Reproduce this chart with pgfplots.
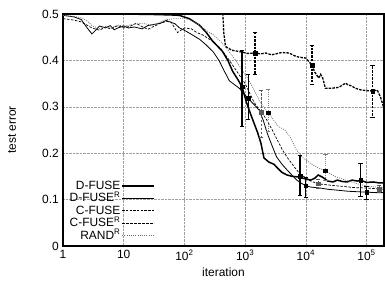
\documentclass[border=0pt]{standalone}
\usepackage{pgfplots}
\pgfplotsset{compat=1.18}
\usepackage{fontspec}
\setmainfont{Liberation Sans}
\pgfplotsset{eb/.style={only marks, forget plot, mark=square*, mark size=1.8bp,
  error bars/y dir=both, error bars/y explicit, error bars/error mark=-,
  error bars/error mark options={rotate=90, mark size=2.2bp, solid, line width=0.6bp},
  error bars/error bar style={#1}}}
\begin{document}
\fontsize{12}{14}\selectfont
\begin{tikzpicture}
\path[use as bounding box] (-63bp,-36bp) rectangle (322bp,246bp);
\begin{axis}[
  at={(0,0)}, anchor=south west,
  scale only axis, width=321bp, height=232bp,
  xmode=log, xmin=1, xmax=1.94e5, ymin=0, ymax=0.5,
  log basis x=10,
  xtick={1,10,100,1000,10000,100000},
  xticklabels={1,10,10\textsuperscript{2},10\textsuperscript{3},10\textsuperscript{4},10\textsuperscript{5}},
  ytick={0,0.1,0.2,0.3,0.4,0.5},
  yticklabels={0,0.1,0.2,0.3,0.4,0.5},
  minor xtick={}, 
  major tick length=0pt,
  axis line style={line width=1.1bp},
  grid=major, major grid style={gray!75, densely dotted, line width=0.5bp},
  xlabel={iteration}, ylabel={test error},
  xlabel style={at={(axis description cs:0.5,-0.112)}, anchor=center},
  ylabel style={at={(axis description cs:-0.159,0.5)}, anchor=center},
  tick label style={font=\fontsize{12}{14}\selectfont},
  label style={font=\fontsize{12}{14}\selectfont},
  legend style={draw=none, fill=none, at={(axis description cs:0.287,0.016)}, anchor=south east,
    font=\fontsize{12}{14}\selectfont, inner sep=0pt, row sep=0pt,
    nodes={inner sep=1bp, text height=8.5bp, text depth=2bp},
    cells={anchor=east}},
  legend plot pos=right,
  legend image code/.code={\draw[#1] (0bp,0bp) -- (32bp,0bp);},
]
% D-FUSE
\addplot[black, line width=1.5bp] coordinates {
(1,0.5)(10,0.5)(30,0.499)(60,0.498)(83,0.497)(120,0.49)(177,0.476)(230,0.46)(290,0.442)(420,0.42)(520,0.4)(620,0.377)(750,0.36)(890,0.343)(1050,0.31)(1250,0.282)(1400,0.265)(1600,0.245)(1820,0.222)(2040,0.19)(2450,0.181)(3000,0.176)(3300,0.17)(4000,0.159)(4900,0.153)(6000,0.15)(7400,0.149)(9600,0.145)(12000,0.142)(14000,0.146)(16000,0.153)(19000,0.148)(23000,0.14)(28000,0.138)(33000,0.142)(40000,0.139)(48000,0.138)(58000,0.142)(70000,0.14)(83000,0.141)(100000,0.137)(130000,0.138)(160000,0.136)(200000,0.136)};
\addlegendentry{D-FUSE}
% D-FUSE^R
\addplot[black, line width=0.8bp] coordinates {
(1,0.497)(1.5,0.494)(2,0.488)(2.5,0.47)(3,0.457)(3.5,0.466)(4,0.474)(5,0.47)(6,0.475)(7,0.466)(8,0.47)(10,0.474)(12,0.47)(15,0.472)(20,0.468)(25,0.475)(30,0.477)(40,0.48)(50,0.486)(60,0.482)(70,0.479)(83,0.47)(100,0.465)(135,0.455)(180,0.445)(230,0.433)(300,0.418)(375,0.399)(450,0.378)(550,0.356)(800,0.34)(1120,0.318)(1400,0.305)(1700,0.293)(2000,0.27)(2300,0.244)(2800,0.215)(3300,0.192)(4000,0.177)(4900,0.164)(6000,0.152)(7100,0.142)(8500,0.135)(10000,0.13)(12000,0.127)(17000,0.125)(24000,0.122)(35000,0.12)(50000,0.118)(70000,0.117)(100000,0.116)(150000,0.115)(200000,0.115)};
\addlegendentry{D-FUSE\textsuperscript{R}}
% C-FUSE
\addplot[black, line width=1.3bp, dash pattern=on 2.5bp off 1.2bp] coordinates {
(1,0.5)(430,0.5)(445,0.46)(470,0.435)(490,0.429)(600,0.422)(890,0.418)(1100,0.415)(1450,0.416)(1800,0.414)(2200,0.416)(2700,0.412)(3200,0.414)(4000,0.417)(5300,0.416)(6500,0.41)(7700,0.407)(10000,0.405)(12600,0.39)(14000,0.375)(16300,0.362)(17500,0.37)(19000,0.362)(21000,0.34)(27000,0.34)(35000,0.342)(45000,0.351)(50000,0.347)(57000,0.345)(65000,0.34)(83000,0.336)(100000,0.335)(126000,0.334)(150000,0.336)(170000,0.321)(190000,0.30)};
\addlegendentry{C-FUSE}
% C-FUSE^R
\addplot[black, line width=0.7bp, dash pattern=on 2.5bp off 1.5bp] coordinates {
(1,0.49)(1.5,0.487)(2,0.483)(3,0.47)(4,0.465)(5,0.472)(6,0.468)(8,0.475)(10,0.47)(13,0.474)(16,0.48)(20,0.473)(25,0.467)(30,0.472)(40,0.48)(50,0.484)(60,0.483)(77,0.46)(100,0.47)(130,0.468)(160,0.46)(200,0.455)(300,0.44)(400,0.425)(550,0.4)(700,0.38)(1000,0.35)(1400,0.31)(1820,0.289)(2200,0.275)(2800,0.25)(3500,0.225)(4200,0.205)(5000,0.19)(6500,0.17)(8000,0.155)(10000,0.147)(12000,0.14)(16000,0.134)(22000,0.132)(30000,0.13)(45000,0.128)(60000,0.126)(100000,0.125)(160000,0.123)(200000,0.122)};
\addlegendentry{C-FUSE\textsuperscript{R}}
% RAND^R
\addplot[gray!85!black, line width=0.7bp, dash pattern=on 1bp off 1.2bp] coordinates {
(1,0.497)(1.5,0.495)(2,0.492)(2.5,0.485)(3,0.475)(4,0.468)(5,0.473)(6,0.47)(8,0.476)(10,0.474)(15,0.478)(20,0.48)(30,0.476)(40,0.482)(50,0.488)(70,0.49)(100,0.49)(130,0.487)(160,0.48)(200,0.47)(300,0.455)(400,0.44)(500,0.425)(700,0.4)(1000,0.37)(1300,0.345)(1700,0.315)(2000,0.3)(2400,0.287)(3000,0.27)(3500,0.258)(4500,0.25)(5500,0.235)(7000,0.207)(9000,0.19)(12000,0.178)(16000,0.168)(21000,0.162)(30000,0.15)(50000,0.14)(80000,0.132)(120000,0.128)(200000,0.125)};
\addlegendentry{RAND\textsuperscript{R}}
% error bars
\addplot[black, eb={line width=1.5bp}] coordinates {
(890,0.343) += (0,0.079) -= (0,0.084)
(8000,0.151) += (0,0.045) -= (0,0.041)
(80000,0.142) += (0,0.037) -= (0,0.034)};
\addplot[black, eb={line width=0.8bp}] coordinates {
(1120,0.318) += (0,0.051) -= (0,0.044)
(10000,0.13) += (0,0.019) -= (0,0.024)
(100000,0.116) += (0,0.013) -= (0,0.015)};
\addplot[black, eb={line width=1.3bp, dash pattern=on 2.5bp off 1.2bp}] coordinates {
(1450,0.416) += (0,0.045) -= (0,0.046)
(12600,0.39) += (0,0.043) -= (0,0.041)
(126000,0.334) += (0,0.056) -= (0,0.056)};
\addplot[gray!70!black, eb={line width=0.7bp, dash pattern=on 2.5bp off 1.5bp}] coordinates {
(1820,0.289) += (0,0.047) -= (0,0.054)
(16000,0.134) += (0,0.01) -= (0,0.01)
(160000,0.123) += (0,0.008) -= (0,0.008)};
\addplot[black, eb={gray, line width=0.7bp, dash pattern=on 1bp off 1.2bp}] coordinates {
(2400,0.287) += (0,0.05) -= (0,0.04)
(21000,0.162) += (0,0.035) -= (0,0.02)};
\end{axis}
\end{tikzpicture}
\end{document}
